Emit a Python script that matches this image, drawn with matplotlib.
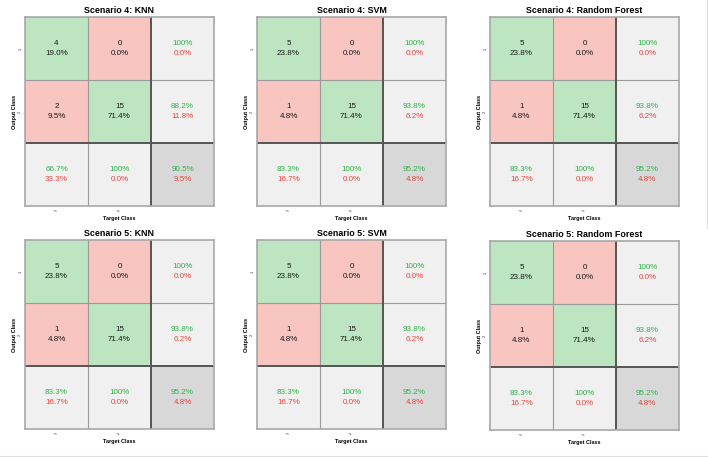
import numpy as np
import matplotlib
matplotlib.use("Agg")
import matplotlib.pyplot as plt
from matplotlib.colors import ListedColormap
from matplotlib.lines import Line2D

plt.rcParams['font.family'] = ['Liberation Sans', 'DejaVu Sans']

# confusion matrices (rows = output class, cols = target class)
titles = ["Scenario 4: KNN", "Scenario 4: SVM", "Scenario 4: Random Forest",
          "Scenario 5: KNN", "Scenario 5: SVM", "Scenario 5: Random Forest"]
cm_s4_knn = [[4, 0], [2, 15]]
cm_s4_svm = [[5, 0], [1, 15]]
cm_s4_rf = [[5, 0], [1, 15]]
cm_s5_knn = [[5, 0], [1, 15]]
cm_s5_svm = [[5, 0], [1, 15]]
cm_s5_rf = [[5, 0], [1, 15]]
matrices = [cm_s4_knn, cm_s4_svm, cm_s4_rf, cm_s5_knn, cm_s5_svm, cm_s5_rf]
class_labels = ["1", "2"]

W, H = 708, 457
fig = plt.figure(figsize=(W / 100, H / 100), dpi=100)

# panel boxes in pixels: left, top, width, height
boxes = [(25, 17, 189, 189), (257, 17, 189, 189), (490, 17, 189, 189),
         (25, 240, 189, 189), (257, 240, 189, 189), (490, 241, 189, 189)]

GREEN_T = "#2db548"
RED_T = "#e8463c"
cmap = ListedColormap(["#bde5c1", "#f8c5c0", "#f0f0f0", "#d8d8d8"])
FS = 5.8
DY = 0.072


def pct(v):
    if abs(v - 100) < 1e-9:
        return "100%"
    return "%.1f%%" % v


for k in range(6):
    cm = np.array(matrices[k], dtype=float)
    n = cm.shape[0]
    total = cm.sum()
    l, t, w, h = boxes[k]
    ax = fig.add_axes([l / W, 1 - (t + h) / H, w / W, h / H])

    # cell kinds: 0 correct, 1 wrong, 2 summary, 3 overall
    kind = np.full((n + 1, n + 1), 2)
    for i in range(n):
        for j in range(n):
            kind[i, j] = 0 if i == j else 1
    kind[n, n] = 3
    ax.imshow(kind, cmap=cmap, vmin=0, vmax=3, aspect='auto',
              extent=(-0.5, n + 0.5, n + 0.5, -0.5))

    for i in range(n):
        for j in range(n):
            ax.text(j, i - DY, "%d" % cm[i, j], ha='center', va='center',
                    fontsize=FS, color='#1a1a1a')
            ax.text(j, i + DY, pct(cm[i, j] / total * 100), ha='center', va='center',
                    fontsize=FS, color='#1a1a1a')
    # row summaries
    for i in range(n):
        good = cm[i, i] / cm[i].sum() * 100
        ax.text(n, i - DY, pct(good), ha='center', va='center', fontsize=FS, color=GREEN_T)
        ax.text(n, i + DY, pct(100 - good), ha='center', va='center', fontsize=FS, color=RED_T)
    # column summaries
    for j in range(n):
        good = cm[j, j] / cm[:, j].sum() * 100
        ax.text(j, n - DY, pct(good), ha='center', va='center', fontsize=FS, color=GREEN_T)
        ax.text(j, n + DY, pct(100 - good), ha='center', va='center', fontsize=FS, color=RED_T)
    acc = np.trace(cm) / total * 100
    ax.text(n, n - DY, pct(acc), ha='center', va='center', fontsize=FS, color=GREEN_T)
    ax.text(n, n + DY, pct(100 - acc), ha='center', va='center', fontsize=FS, color=RED_T)

    # grid lines
    for p in range(n - 1):
        ax.axhline(p + 0.5, color='#9a9a9a', lw=0.8)
        ax.axvline(p + 0.5, color='#9a9a9a', lw=0.8)
    ax.axhline(n - 0.5, color='#555555', lw=1.4)
    ax.axvline(n - 0.5, color='#555555', lw=1.4)
    for s in ax.spines.values():
        s.set_color('#a8a8a8')
        s.set_linewidth(1.2)

    ax.set_xlim(-0.5, n + 0.5)
    ax.set_ylim(n + 0.5, -0.5)
    ax.set_xticks(range(n))
    ax.set_xticklabels(class_labels, rotation=70, fontsize=3)
    ax.set_yticks(range(n))
    ax.set_yticklabels(class_labels, rotation=90, va='center', fontsize=3)
    ax.tick_params(length=0, pad=2, colors='#333333')
    ax.set_xlabel("Target Class", fontsize=4, fontweight='bold', labelpad=3)
    ax.set_ylabel("Output Class", fontsize=4, fontweight='bold', labelpad=1)
    ax.set_title(titles[k], fontsize=6.4, fontweight='bold', pad=3)

# faint screenshot borders
fig.add_artist(Line2D([706.5 / W, 706.5 / W], [1 - 228 / H, 1], color='#dddddd', lw=0.8))
fig.add_artist(Line2D([0, 1], [1 - 455.5 / H, 1 - 455.5 / H], color='#e0e0e0', lw=0.8))

fig.savefig("out.png", dpi=100, facecolor='white')
